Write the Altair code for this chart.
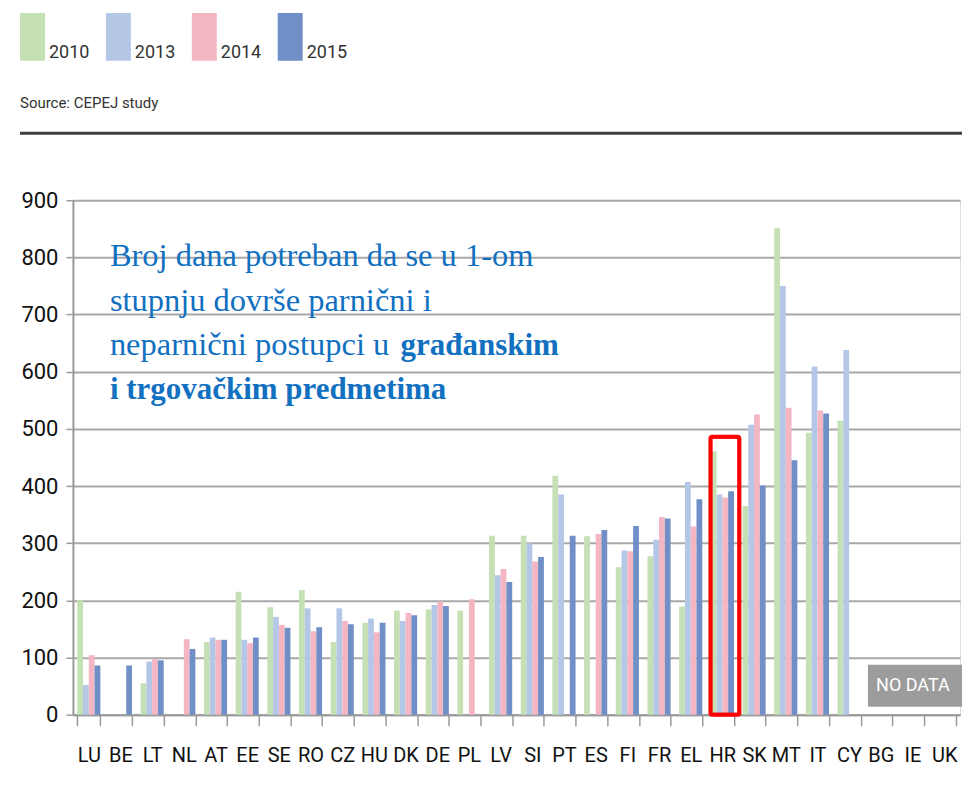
import altair as alt
import pandas as pd

countries = ["LU", "BE", "LT", "NL", "AT", "EE", "SE", "RO", "CZ", "HU", "DK", "DE", "PL", "LV",
             "SI", "PT", "ES", "FI", "FR", "EL", "HR", "SK", "MT", "IT", "CY", "BG", "IE", "UK"]
years = ["2010", "2013", "2014", "2015"]
v2010 = [200, None, 55, None, 127, 215, 188, 218, 127, 161, 182, 184, 182, 313,
         313, 418, 312, 258, 277, 189, 461, 365, 851, 493, 514, None, None, None]
v2013 = [52, None, 93, None, 135, 131, 171, 186, 186, 168, 164, 192, None, 244,
         300, 385, None, 287, 306, 407, 385, 507, 750, 609, 638, None, None, None]
v2014 = [104, None, 97, 132, 131, 125, 157, 146, 164, 144, 178, 198, 202, 255,
         268, None, 316, 286, 346, 329, 380, 525, 537, 532, None, None, None, None]
v2015 = [86, 86, 95, 115, 131, 135, 152, 153, 158, 161, 174, 190, None, 232,
         276, 313, 323, 330, 343, 377, 391, 401, 445, 527, None, None, None, None]
colors = ["#c5e0b4", "#b4c7e7", "#f4b6c2", "#6f8fc6"]

title_lines = ["Broj dana potreban da se u 1-om", "stupnju dovrše parnični i", "neparnični postupci u"]
title_bold = ["građanskim", "i trgovačkim predmetima"]
source_text = "Source: CEPEJ study"
no_data_text = "NO DATA"
highlight = "HR"
highlight_top = 486

rows = []
for yr, vals in zip(years, [v2010, v2013, v2014, v2015]):
    for c, v in zip(countries, vals):
        if v is not None:
            rows.append({"country": c, "year": yr, "value": v})
df = pd.DataFrame(rows)

W, H = 888, 515
step = W / len(countries)
SANS = "Roboto, Liberation Sans, sans-serif"
SERIF = "Liberation Serif, Times New Roman, DejaVu Serif, serif"
BLUE = "#1170c0"

xscale = alt.Scale(domain=countries, paddingInner=0.27, paddingOuter=0.135)
yscale = alt.Scale(domain=[0, 900], nice=False)

legend_path = "M-1,-2.857H0.786V0.571H-1Z"

bars = alt.Chart(df).mark_bar().encode(
    x=alt.X("country:N", scale=xscale, sort=countries,
            axis=alt.Axis(title=None, labelAngle=0, tickBand="extent", tickSize=11,
                          tickColor="#9a9a9a", tickWidth=1.5, domainColor="#9a9a9a",
                          domainWidth=2, labelFont=SANS, labelFontSize=20,
                          labelColor="#111", labelPadding=20, grid=False)),
    xOffset=alt.XOffset("year:N", scale=alt.Scale(domain=years, paddingInner=0, paddingOuter=0)),
    y=alt.Y("value:Q", scale=yscale,
            axis=alt.Axis(title=None, values=list(range(0, 901, 100)), tickSize=7,
                          tickColor="#9a9a9a", tickWidth=1.5, domainColor="#9a9a9a",
                          domainWidth=2, gridColor="#a8a8a8", gridWidth=2,
                          labelFont=SANS, labelFontSize=22, labelColor="#111",
                          labelPadding=8)),
    color=alt.Color("year:N", scale=alt.Scale(domain=years, range=colors),
                    legend=alt.Legend(orient="none", legendX=-53, legendY=-161.5,
                                      direction="horizontal", title=None,
                                      symbolType=legend_path, symbolSize=784,
                                      symbolStrokeWidth=0, labelOffset=1,
                                      columnPadding=16, padding=0,
                                      labelFont=SANS, labelFontSize=18,
                                      labelColor="#333")),
)

box = alt.Chart(pd.DataFrame({"country": [highlight], "value": [highlight_top]})).mark_bar(
    filled=False, stroke="#ff0000", strokeWidth=4, size=29, xOffset=2.5, cornerRadius=2
).encode(
    x=alt.X("country:N", scale=xscale, sort=countries),
    y=alt.Y("value:Q", scale=yscale),
    y2=alt.value(H + 90),
)

layers = [bars, box]

x0, bl0, lh = 37, 66, 44.5
for i, line in enumerate(title_lines):
    layers.append(alt.Chart(pd.DataFrame({"t": [line]})).mark_text(
        align="left", baseline="alphabetic", font=SERIF, fontSize=32.5, color=BLUE
    ).encode(x=alt.value(x0), y=alt.value(bl0 + i * lh), text="t:N"))
layers.append(alt.Chart(pd.DataFrame({"t": [title_bold[0]]})).mark_text(
    align="left", baseline="alphabetic", font=SERIF, fontSize=31, fontWeight="bold", color=BLUE
).encode(x=alt.value(328), y=alt.value(bl0 + 2 * lh), text="t:N"))
layers.append(alt.Chart(pd.DataFrame({"t": [title_bold[1]]})).mark_text(
    align="left", baseline="alphabetic", font=SERIF, fontSize=31, fontWeight="bold", color=BLUE
).encode(x=alt.value(x0), y=alt.value(bl0 + 3 * lh), text="t:N"))

layers.append(alt.Chart(pd.DataFrame({"t": [source_text]})).mark_text(
    align="left", baseline="alphabetic", font=SANS, fontSize=15, color="#333"
).encode(x=alt.value(-53), y=alt.value(-92), text="t:N"))

layers.append(alt.Chart(pd.DataFrame({"t": [0]})).mark_rule(
    color="#404040", strokeWidth=3
).encode(x=alt.value(-53), x2=alt.value(W + 20), y=alt.value(-67)))

nd_x = 25 * step + 3
layers.append(alt.Chart(pd.DataFrame({"t": [0]})).mark_rect(color="#9c9c9c").encode(
    x=alt.value(nd_x), x2=alt.value(W + 10), y=alt.value(H - 50), y2=alt.value(H - 8)))
layers.append(alt.Chart(pd.DataFrame({"t": [no_data_text]})).mark_text(
    align="center", baseline="middle", font=SANS, fontSize=18, color="white"
).encode(x=alt.value(nd_x + 45), y=alt.value(H - 29), text="t:N"))

chart = alt.layer(*layers).properties(
    width=W, height=H,
    padding={"left": 65, "top": 192, "right": 2, "bottom": 64},
    autosize=alt.AutoSizeParams(type="none"),
).configure_view(stroke=None).configure(background="white")

chart.save("out.html", embed_options={"renderer": "svg", "actions": False})
